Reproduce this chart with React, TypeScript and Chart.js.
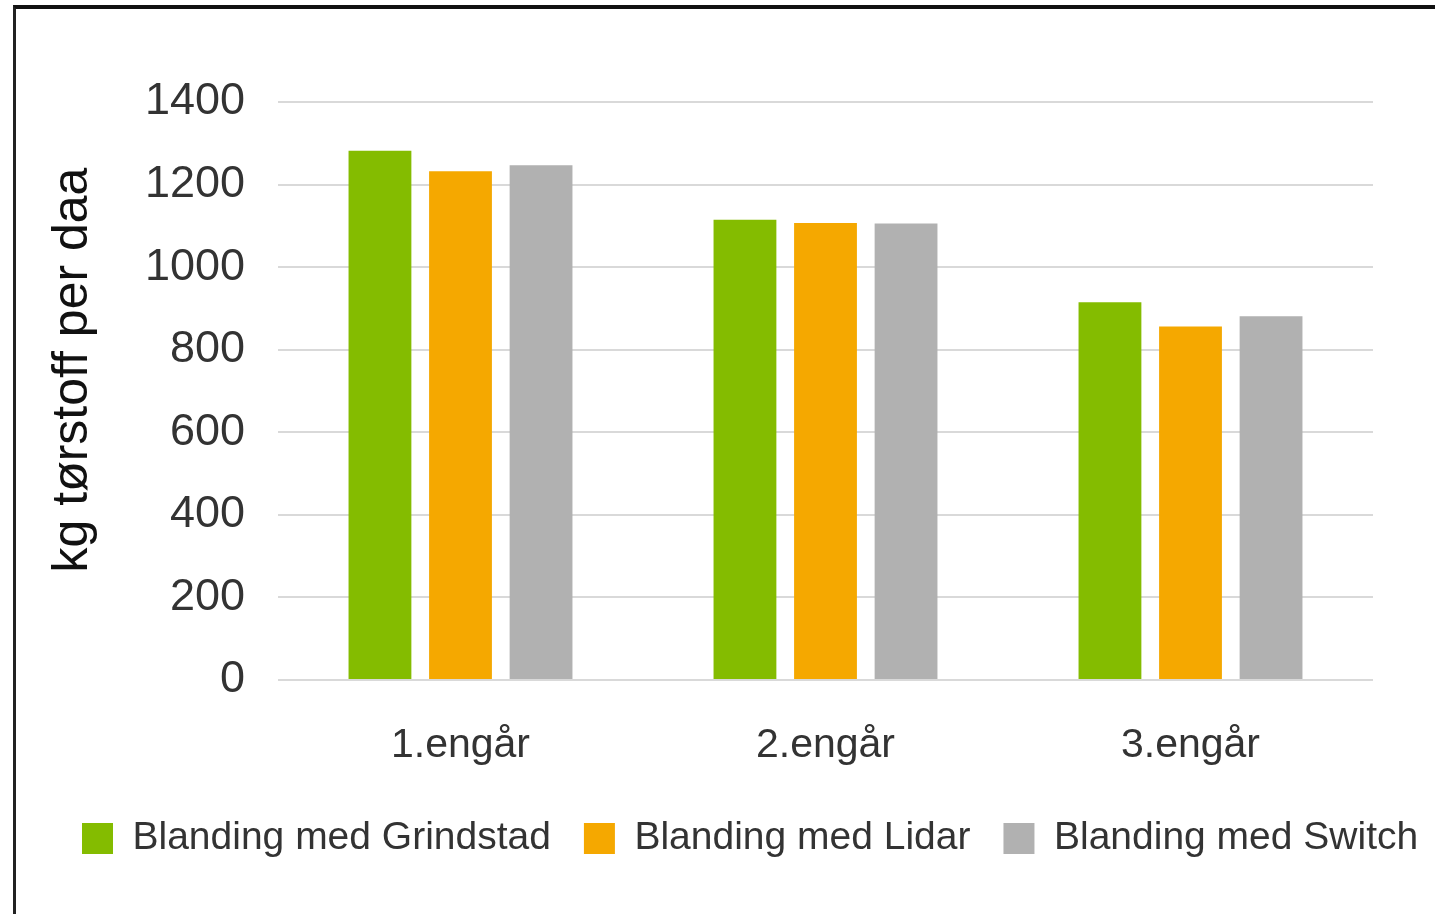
import React, { useEffect, useRef } from "react";
import { Chart, registerables } from "chart.js";

Chart.register(...registerables);

const categories = ["1.engår", "2.engår", "3.engår"];
const seriesNames = ["Blanding med Grindstad", "Blanding med Lidar", "Blanding med Switch"];
const grindstad = [1282, 1115, 915];
const lidar = [1232, 1107, 856];
const switchVals = [1247, 1106, 881];
const seriesColors = ["#84BC00", "#F5A800", "#B1B1B1"];
const yTicksMax = 1400;
const yTicksStep = 200;
const yTitle = "kg tørstoff per daa";

const FONT = '"Liberation Sans", Arial, Helvetica, sans-serif';

const yTitlePlugin = {
  id: "yTitlePlugin",
  afterDraw(chart: any) {
    const { ctx, chartArea } = chart;
    ctx.save();
    ctx.translate(chartArea.left - 205, (chartArea.top + chartArea.bottom) / 2 - 21);
    ctx.rotate(-Math.PI / 2);
    ctx.font = `50px ${FONT}`;
    ctx.fillStyle = "#111111";
    ctx.textAlign = "center";
    ctx.textBaseline = "middle";
    ctx.fillText(yTitle, 0, 0);
    ctx.restore();
  },
};

export default function App() {
  const canvasRef = useRef<HTMLCanvasElement | null>(null);

  useEffect(() => {
    if (!canvasRef.current) return;
    const values = [grindstad, lidar, switchVals];
    const chart = new Chart(canvasRef.current, {
      type: "bar",
      data: {
        labels: categories,
        datasets: seriesNames.map((name, i) => ({
          label: name,
          data: values[i],
          backgroundColor: seriesColors[i],
          borderWidth: 0,
          categoryPercentage: 0.662,
          barPercentage: 0.78,
        })),
      },
      options: {
        animation: false,
        responsive: true,
        maintainAspectRatio: false,
        layout: { padding: { left: 49, right: 0, top: 102, bottom: 46 } },
        plugins: {
          tooltip: { enabled: false },
          title: { display: false },
          legend: {
            display: true,
            position: "bottom",
            align: "start",
            labels: {
              boxWidth: 31,
              boxHeight: 31,
              padding: 33,
              color: "#333333",
              font: { family: FONT, size: 39 },
            },
          },
        },
        scales: {
          x: {
            grid: { display: false },
            border: { display: false },
            ticks: {
              color: "#333333",
              font: { family: FONT, size: 41 },
              padding: 33,
            },
            afterFit: (s: any) => {
              s.height = 106;
            },
          },
          y: {
            min: 0,
            max: yTicksMax,
            ticks: {
              stepSize: yTicksStep,
              color: "#333333",
              font: { family: FONT, size: 45 },
              padding: 33,
              callback: (v: any) => String(v),
            },
            grid: { color: "#d9d9d9", lineWidth: 2, drawTicks: false },
            border: { display: false },
            afterFit: (s: any) => {
              s.width = 229;
            },
          },
          yRight: {
            type: "linear",
            position: "right",
            display: true,
            grid: { display: false },
            border: { display: false },
            ticks: { display: false },
            afterFit: (s: any) => {
              s.width = 127;
            },
          },
        },
      } as any,
      plugins: [yTitlePlugin],
    });
    return () => chart.destroy();
  }, []);

  return (
    <div
      style={{
        position: "fixed",
        left: 0,
        top: 0,
        width: 1435,
        height: 914,
        overflow: "hidden",
        background: "#ffffff",
      }}
    >
      <div
        style={{
          position: "absolute",
          left: 13,
          top: 5,
          width: 1600,
          height: 1000,
          borderTop: "4px solid #111111",
          borderLeft: "3px solid #222222",
        }}
      />
      <div style={{ position: "absolute", left: 0, top: 0, width: 1500, height: 914 }}>
        <canvas ref={canvasRef} />
      </div>
    </div>
  );
}
